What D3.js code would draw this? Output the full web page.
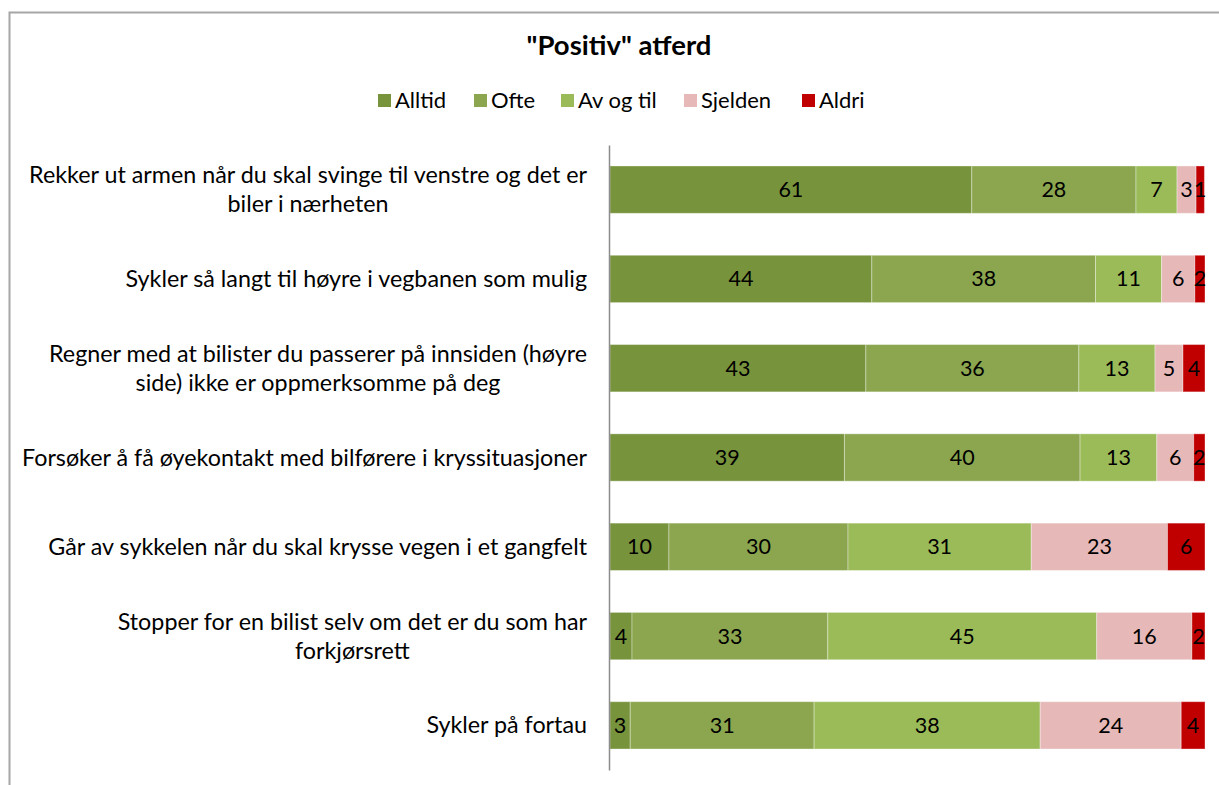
<!DOCTYPE html>
<html>
<head>
<meta charset="utf-8">
<script src="https://cdn.jsdelivr.net/npm/d3@7"></script>
<style>
  html, body { margin: 0; padding: 0; background: #fff; }
  svg { display: block; font-family: Lato, "Open Sans", sans-serif; }
</style>
</head>
<body>
<svg id="chart" width="1219" height="785"></svg>
<script>
// ---- data ----
const title = '"Positiv" atferd';
const seriesNames = ["Alltid", "Ofte", "Av og til", "Sjelden", "Aldri"];
const categories = [
  ["Rekker ut armen når du skal svinge til venstre og det er", "biler i nærheten"],
  ["Sykler så langt til høyre i vegbanen som mulig"],
  ["Regner med at bilister du passerer på innsiden (høyre", "side) ikke er oppmerksomme på deg"],
  ["Forsøker å få øyekontakt med bilførere i kryssituasjoner"],
  ["Går av sykkelen når du skal krysse vegen i et gangfelt"],
  ["Stopper for en bilist selv om det er du som har", "forkjørsrett"],
  ["Sykler på fortau"]
];
const alltid  = [60.8, 44.0, 43.0, 39.4, 9.9, 3.7, 3.4];
const ofte    = [27.6, 37.6, 35.8, 39.6, 30.1, 32.9, 30.9];
const avogtil = [6.9, 11.1, 12.8, 12.9, 30.8, 45.2, 38.0];
const sjelden = [3.2, 5.6, 4.7, 6.2, 22.9, 16.0, 23.7];
const aldri   = [1.4, 1.7, 3.7, 1.9, 6.3, 2.2, 4.0];
const colors = ["#77933c", "#8ba64f", "#9bbb59", "#e6b9b8", "#c00000"];

// ---- build ----
const svg = d3.select("#chart");

// outer chart frame (cropped)
svg.append("rect").attr("x", 9.5).attr("y", 12.5).attr("width", 1300).attr("height", 900)
  .attr("fill", "#fff").attr("stroke", "#a6a6a6").attr("stroke-width", 2);

const plot = { left: 610, right: 1205, top: 145, bottom: 770 };

const rows = categories.map((c, i) => ({
  idx: i, lines: c,
  vals: [alltid[i], ofte[i], avogtil[i], sjelden[i], aldri[i]]
}));

const x = d3.scaleLinear().domain([0, 100]).range([plot.left, plot.right]);
const y = d3.scaleBand().domain(d3.range(categories.length))
  .range([plot.top, plot.bottom]).paddingInner(0.47).paddingOuter(0.235);

// title
svg.append("text").attr("x", 619).attr("y", 55).attr("text-anchor", "middle")
  .attr("font-size", 27.5).attr("font-weight", "bold").attr("fill", "#000").text(title);

// legend
const legendX = [378, 474, 561, 684, 802];
const lg = svg.append("g");
seriesNames.forEach((s, i) => {
  lg.append("rect").attr("x", legendX[i]).attr("y", 94).attr("width", 13).attr("height", 13)
    .attr("fill", colors[i]);
  lg.append("text").attr("x", legendX[i] + 17).attr("y", 108)
    .attr("font-size", 22).attr("fill", "#000").text(s);
});

// stacked segments
const stack = d3.stack().keys(d3.range(5)).value((d, k) => d.vals[k]);
const layers = stack(rows);

layers.forEach((layer, k) => {
  const g = svg.append("g");
  g.selectAll("rect").data(layer).join("rect")
    .attr("x", d => x(d[0]))
    .attr("y", d => y(d.data.idx))
    .attr("width", d => x(d[1]) - x(d[0]))
    .attr("height", y.bandwidth())
    .attr("fill", colors[k])
    .attr("stroke", "#ffffff").attr("stroke-opacity", 0.35).attr("stroke-width", 1);
  g.selectAll("text").data(layer).join("text")
    .attr("x", d => (x(d[0]) + x(d[1])) / 2)
    .attr("y", d => y(d.data.idx) + y.bandwidth() / 2 + 7.5)
    .attr("text-anchor", "middle").attr("font-size", 21.5).attr("fill", "#000")
    .text(d => Math.round(d[1] - d[0]));
});

// axis line
const yAxis = d3.axisLeft(y).tickSize(0).tickFormat("");
const ax = svg.append("g").attr("transform", `translate(${plot.left - 1},0)`).call(yAxis);
ax.select(".domain").attr("stroke", "#8c8c8c").attr("stroke-width", 1.5);

// category labels
const labelRight = 587;
const lineH = 29;
rows.forEach(r => {
  const cy = y(r.idx) + y.bandwidth() / 2;
  const n = r.lines.length;
  const g = svg.append("g");
  const texts = r.lines.map((t, j) => g.append("text")
    .attr("y", cy + (j - (n - 1) / 2) * lineH + 8)
    .attr("font-size", 23.3).attr("fill", "#000").text(t));
  const widths = texts.map(t => t.node().getComputedTextLength());
  const maxW = Math.max(...widths);
  const center = labelRight - maxW / 2;
  texts.forEach(t => t.attr("x", center).attr("text-anchor", "middle"));
});
</script>
</body>
</html>
